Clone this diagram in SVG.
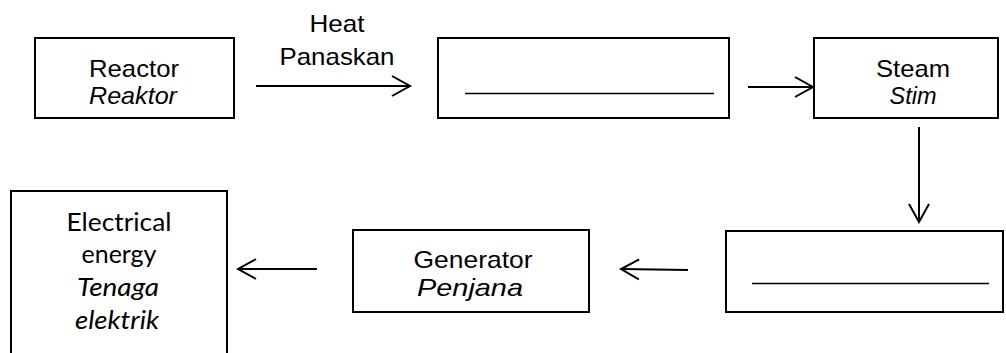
<svg xmlns="http://www.w3.org/2000/svg" width="1006" height="353" viewBox="0 0 1006 353">
  <style>
    .box { fill: #ffffff; stroke: #000000; stroke-width: 2; }
    .lbl { font-family: "Liberation Sans", Arial, sans-serif; font-size: 24px; fill: #000000; text-anchor: middle; }
    .cal { font-family: "Lato", "Open Sans", sans-serif; font-size: 25px; fill: #000000; text-anchor: middle; }
    .it { font-style: italic; }
    .blank { stroke: #000000; stroke-width: 1.4; }
    .conn { stroke: #000000; stroke-width: 2; fill: none; marker-end: url(#chevron); }
  </style>
  <defs>
    <marker id="chevron" markerUnits="userSpaceOnUse" markerWidth="22" markerHeight="24" viewBox="0 0 22 24" refX="19" refY="12" orient="auto">
      <path d="M1,2 L19,12 L1,22" fill="none" stroke="#000000" stroke-width="2"/>
    </marker>
  </defs>

  <rect width="1006" height="353" fill="#ffffff"/>

  <g id="reactor">
    <rect class="box" x="35" y="38" width="199" height="80"/>
    <text class="lbl" x="134" y="77" textLength="90" lengthAdjust="spacingAndGlyphs">Reactor</text>
    <text class="lbl it" x="133" y="104" textLength="88" lengthAdjust="spacingAndGlyphs">Reaktor</text>
  </g>

  <g id="heat-label">
    <text class="lbl" x="337" y="32" textLength="55" lengthAdjust="spacingAndGlyphs">Heat</text>
    <text class="lbl" x="337" y="65" textLength="115" lengthAdjust="spacingAndGlyphs">Panaskan</text>
  </g>

  <g id="blank-1">
    <rect class="box" x="438" y="38" width="291" height="80"/>
    <line class="blank" x1="465" y1="93.5" x2="714" y2="93.5"/>
  </g>

  <g id="steam">
    <rect class="box" x="814" y="38" width="184" height="80"/>
    <text class="lbl" x="913" y="77" textLength="74" lengthAdjust="spacingAndGlyphs">Steam</text>
    <text class="lbl it" x="913" y="104" textLength="47" lengthAdjust="spacingAndGlyphs">Stim</text>
  </g>

  <g id="blank-2">
    <rect class="box" x="726" y="231" width="277" height="81"/>
    <line class="blank" x1="752" y1="283.5" x2="989" y2="283.5"/>
  </g>

  <g id="generator">
    <rect class="box" x="353" y="230" width="236" height="82"/>
    <text class="lbl" x="473" y="268" textLength="119" lengthAdjust="spacingAndGlyphs">Generator</text>
    <text class="lbl it" x="470" y="296" textLength="106" lengthAdjust="spacingAndGlyphs">Penjana</text>
  </g>

  <g id="electrical-energy">
    <path class="box" d="M11,360 L11,191 L227,191 L227,360"/>
    <text class="cal" x="119" y="231" textLength="105" lengthAdjust="spacingAndGlyphs">Electrical</text>
    <text class="cal" x="119" y="263" textLength="75" lengthAdjust="spacingAndGlyphs">energy</text>
    <text class="cal it" x="118" y="296" textLength="82" lengthAdjust="spacingAndGlyphs">Tenaga</text>
    <text class="cal it" x="117" y="329" textLength="84" lengthAdjust="spacingAndGlyphs">elektrik</text>
  </g>

  <g id="connectors">
    <line class="conn" x1="256" y1="86" x2="410" y2="86"/>
    <line class="conn" x1="748" y1="87" x2="813" y2="87"/>
    <line class="conn" x1="919" y1="127" x2="919" y2="222"/>
    <line class="conn" x1="688" y1="270" x2="621" y2="269"/>
    <line class="conn" x1="317" y1="269" x2="238" y2="269"/>
  </g>
</svg>
